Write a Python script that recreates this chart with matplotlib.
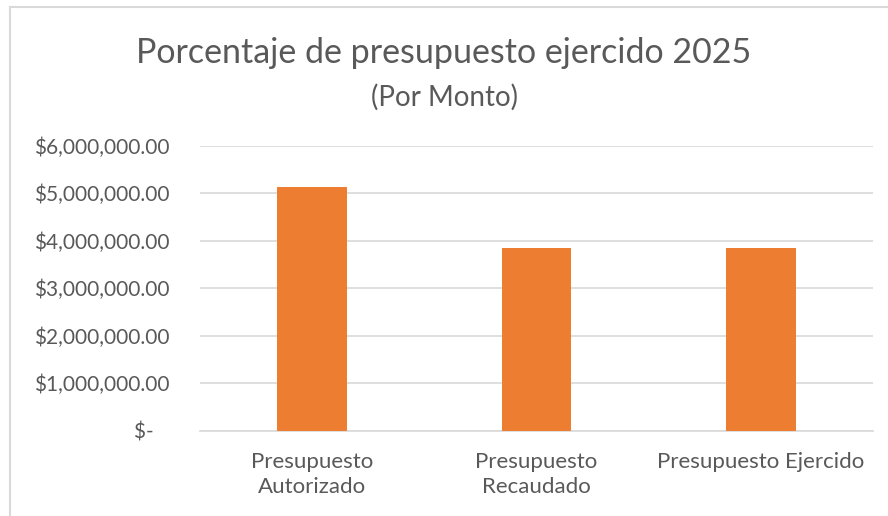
import matplotlib
matplotlib.use('Agg')
import matplotlib.pyplot as plt
from matplotlib.ticker import FuncFormatter
from matplotlib.lines import Line2D

# data
categorias = ['Presupuesto\nAutorizado', 'Presupuesto\nRecaudado', 'Presupuesto Ejercido']
montos = [5120000, 3850000, 3850000]
titulo = 'Porcentaje de presupuesto ejercido 2025'
subtitulo = '(Por Monto)'

plt.rcParams['font.family'] = ['Lato', 'DejaVu Sans']
gris = '#595959'

fig = plt.figure(figsize=(8.88, 5.16), dpi=100)
ax = fig.add_axes([200/888, 1-430.7/516, (873-200)/888, (430.7-145.7)/516])

# bars
ax.bar(range(len(categorias)), montos, width=0.31, color='#ED7D31', zorder=3)
ax.set_xlim(-0.5, len(categorias)-0.5)
ax.set_ylim(0, 6000000)
ax.set_yticks(range(0, 6000001, 1000000))

def moneda(v, pos):
    if v == 0:
        return '$-   '
    return '${:,.2f}'.format(v)

ax.yaxis.set_major_formatter(FuncFormatter(moneda))
ax.set_xticks(range(len(categorias)))
ax.set_xticklabels(categorias, linespacing=1.35)

ax.grid(axis='y', color='#D9D9D9', linewidth=1.2, zorder=0)
for s in ['top', 'right', 'left']:
    ax.spines[s].set_visible(False)
ax.spines['bottom'].set_color('#D9D9D9')
ax.spines['bottom'].set_linewidth(1.2)
ax.tick_params(axis='y', length=0, labelsize=15, labelcolor=gris, pad=22)
ax.tick_params(axis='x', length=0, labelsize=16, labelcolor=gris, pad=15)

# titles
fig.text(0.5, 1-63/516, titulo, ha='center', va='baseline', fontsize=24.5, color=gris)
fig.text(0.5, 1-106/516, subtitulo, ha='center', va='baseline', fontsize=20, color=gris)

# chart border (partly cropped)
fig.add_artist(Line2D([9.5/888, 1], [1-7/516, 1-7/516], color='#D9D9D9', linewidth=1.5))
fig.add_artist(Line2D([9.5/888, 9.5/888], [0, 1-7/516], color='#D9D9D9', linewidth=1.5))

fig.savefig('out.png', dpi=100)
